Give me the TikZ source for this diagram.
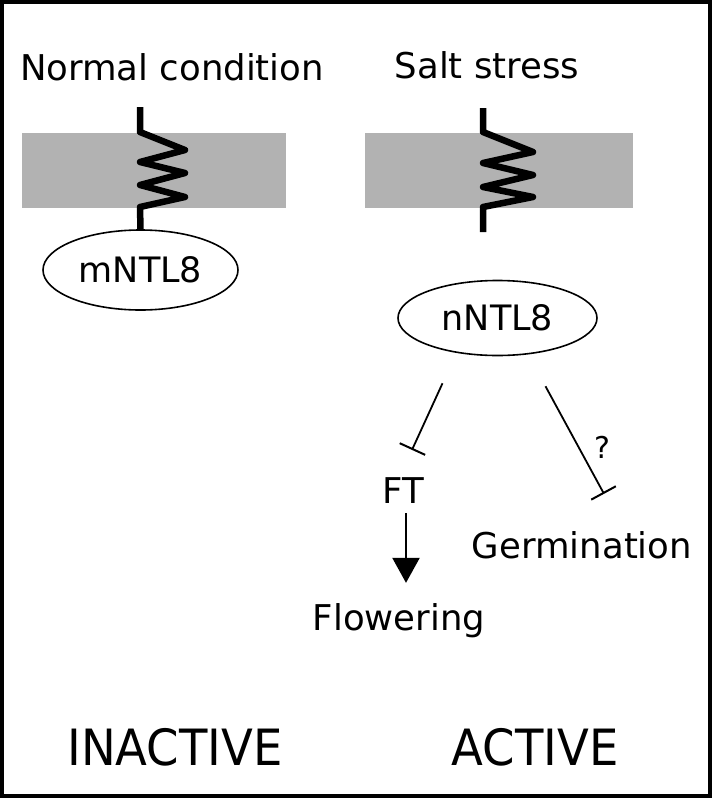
\documentclass[tikz,border=0pt]{standalone}
\usepackage{fontspec}
\setmainfont{DejaVu Sans}
\usetikzlibrary{arrows.meta,shapes.geometric}
\definecolor{membrane}{RGB}{178,178,178}
\begin{document}
\begin{tikzpicture}[x=1pt,y=-1pt,
  lbl/.style={inner sep=0pt,anchor=base,font=\fontsize{35.5}{40}\selectfont},
  big/.style={inner sep=0pt,anchor=base,font=\fontsize{50}{56}\selectfont},
  prot/.style={draw,ellipse,line width=1.6pt,inner sep=0pt,font=\fontsize{35}{40}\selectfont},
  zig/.style={line width=6.5pt,line join=round},
  inh/.style={line width=1.8pt,-{Bar[width=28pt,line width=2pt]}},
  arr/.style={line width=2.4pt,-{Triangle[length=25pt,width=27pt]}}]
\useasboundingbox (0,0) rectangle (712,798);
\fill[black] (0,0) rectangle (712,798);
\fill[white] (4,4) rectangle (708,794);
% titles
\node[lbl] (normal) at (172,80) {Normal condition};
\node[lbl] (salt) at (487,78) {Salt stress};
% membranes
\fill[membrane] (22,133) rectangle (286,208);
\fill[membrane] (365,133) rectangle (633,208);
% proteins
\node[prot,minimum width=195pt,minimum height=80pt] (mNTL8) at (140.5,270) {mNTL8};
\node[prot,minimum width=199pt,minimum height=75pt] (nNTL8) at (497.5,318) {nNTL8};
% zigzag transmembrane domains
\coordinate (ztop1) at (140,107);
\draw[zig] (ztop1) -- (140,132) -- (185,150) -- (140,162) -- (185,173) -- (140,185) -- (185,197) -- (140,207) -- (mNTL8.north);
\coordinate (ztop2) at (483,108);
\coordinate (zbot2) at (483,232);
\draw[zig] (ztop2) -- (483,132) -- (533,152) -- (483,163) -- (533,175) -- (483,187) -- (533,197) -- (483,207) -- (zbot2);
% targets
\node[lbl] (FT) at (403,503) {FT};
\node[lbl] (flower) at (399,630) {Flowering};
\node[lbl] (germ) at (582,558) {Germination};
\node[inner sep=0pt,anchor=base,font=\fontsize{30}{34}\selectfont] (q) at (602,458) {?};
% connectors
\draw[inh] ([shift={(-55,27)}]nNTL8.south) -- ([shift={(9,-27)}]FT.north);
\draw[inh] ([shift={(48,30)}]nNTL8.south) -- ([shift={(22,-37)}]germ.north);
\draw[arr,shorten <=10pt,shorten >=20pt] ([xshift=3pt]FT.south) -- ([xshift=3pt]FT.south |- flower.north);
% states
\node[big] (inactive) at (175,765) {\scalebox{0.93}[1]{INACTIVE}};
\node[big] (active) at (535,765) {\scalebox{0.93}[1]{ACTIVE}};
\end{tikzpicture}
\end{document}
